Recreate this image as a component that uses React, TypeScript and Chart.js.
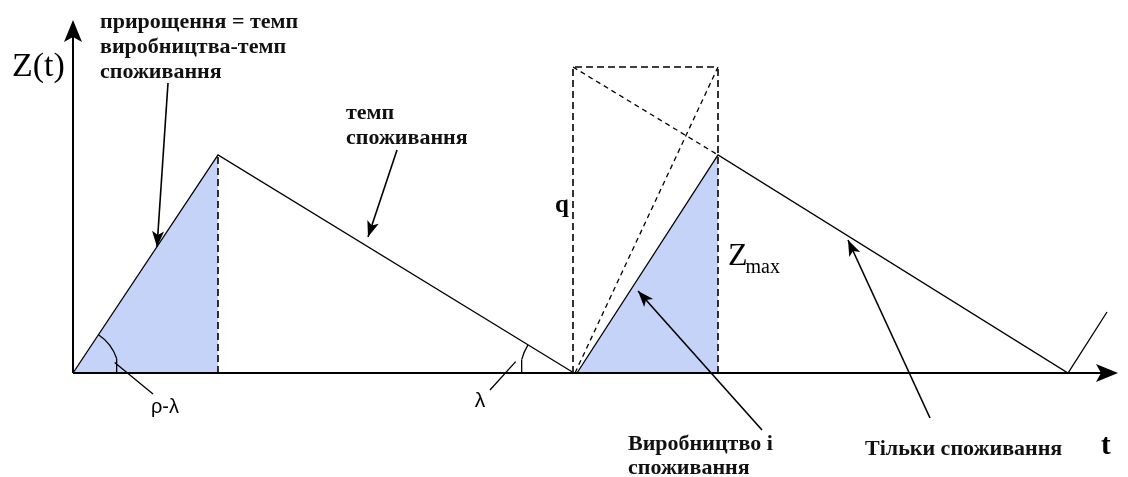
import React, { useEffect, useRef } from "react";
import { Chart, registerables } from "chart.js";

Chart.register(...registerables);

// ---- Data (time t, stock level Z) ----
const cycle1T = [0, 14.5, 50.1];
const cycle1Z = [0, 21.8, 0];
const cycle2T = [50.4, 64.5, 99.5, 103.4];
const cycle2Z = [0, 21.8, 0, 6.1];
const prodEndT = [14.5, 64.5];
const zMax = 21.8;
const qValue = 30.6;
const orderStartT = 50.0;
const prodLineT = [50.2, 64.5];
const prodLineZ = [0, 30.6];
const consExtT = [50.0, 64.5];
const consExtZ = [30.6, 21.8];
const axisEndT = 104.5;
const axisEndZ = 35.3;

// annotation arrows: [t, Z] of tail and of tip
const arrowsFrom = [
  [9.5, 29.0],
  [32.4, 22.3],
  [68.9, -5.7],
  [85.7, -4.5],
];
const arrowsTo = [
  [8.4, 12.6],
  [29.5, 13.6],
  [56.5, 8.2],
  [77.5, 13.3],
];

// text
const growthLabel = ["прирощення = темп", "виробництва-темп", "споживання"];
const consRateLabel = ["темп", "споживання"];
const prodConsLabel = ["Виробництво і", "споживання"];
const onlyConsLabel = "Тільки споживання";
const yAxisLabel = "Z(t)";
const xAxisLabel = "t";
const qLabel = "q";
const zMaxLabel = ["Z", "max"];
const angle1Label = "ρ-λ";
const angle2Label = "λ";

const FILL = "rgb(197,211,249)";
const DASH = [7, 4];

function pts(t: number[], z: number[]) {
  return t.map((v, i) => ({ x: v, y: z[i] }));
}

function arrowHead(
  ctx: CanvasRenderingContext2D,
  fx: number,
  fy: number,
  tx: number,
  ty: number,
  len: number,
  half: number,
  notch: number
) {
  const a = Math.atan2(ty - fy, tx - fx);
  const c = Math.cos(a);
  const s = Math.sin(a);
  const bx = tx - c * len;
  const by = ty - s * len;
  ctx.beginPath();
  ctx.moveTo(tx, ty);
  ctx.lineTo(bx - s * half, by + c * half);
  ctx.lineTo(tx - c * (len - notch), ty - s * (len - notch));
  ctx.lineTo(bx + s * half, by - c * half);
  ctx.closePath();
  ctx.fill();
}

const overlayPlugin = {
  id: "overlay",
  afterDatasetsDraw(chart: any) {
    const ctx: CanvasRenderingContext2D = chart.ctx;
    const xs = chart.scales.x;
    const ys = chart.scales.y;
    const px = (v: number) => xs.getPixelForValue(v);
    const py = (v: number) => ys.getPixelForValue(v);
    ctx.save();
    ctx.fillStyle = "#000";
    ctx.strokeStyle = "#000";

    // axis arrowheads
    arrowHead(ctx, px(0), py(0), px(0), py(axisEndZ), 22, 9, 5);
    arrowHead(ctx, px(0), py(0), px(axisEndT), py(0), 22, 9, 5);

    // annotation arrowheads
    arrowsFrom.forEach((f, i) => {
      const t = arrowsTo[i];
      arrowHead(ctx, px(f[0]), py(f[1]), px(t[0]), py(t[1]), 16, 6, 4);
    });

    // angle arcs
    ctx.lineWidth = 1.3;
    const o1x = px(cycle1T[0]);
    const o1y = py(0);
    const riseAng = Math.atan2(py(cycle1Z[1]) - o1y, px(cycle1T[1]) - o1x);
    ctx.beginPath();
    ctx.arc(o1x, o1y, 46, riseAng, -0.32);
    ctx.stroke();
    const e1x = o1x + 46 * Math.cos(-0.32);
    const e1y = o1y + 46 * Math.sin(-0.32);
    ctx.beginPath();
    ctx.moveTo(e1x, e1y);
    ctx.lineTo(e1x, o1y);
    ctx.moveTo(e1x - 2, e1y + 4);
    ctx.lineTo(px(8.0), py(-2.1));
    ctx.stroke();

    const o2x = px(cycle1T[2]);
    const o2y = py(0);
    const fallAng = Math.atan2(py(cycle1Z[1]) - o2y, px(cycle1T[1]) - o2x);
    ctx.beginPath();
    ctx.arc(o2x, o2y, 54, fallAng, Math.PI + 0.25, true);
    ctx.stroke();
    const e2x = o2x + 54 * Math.cos(Math.PI + 0.25);
    const e2y = o2y + 54 * Math.sin(Math.PI + 0.25);
    ctx.beginPath();
    ctx.moveTo(e2x, e2y);
    ctx.lineTo(e2x, o2y);
    ctx.moveTo(e2x - 6, e2y + 2);
    ctx.lineTo(px(41.7), py(-1.7));
    ctx.stroke();

    // texts
    ctx.textBaseline = "middle";
    ctx.textAlign = "left";
    ctx.fillStyle = "#111";
    ctx.font = "bold 22px 'Liberation Serif', serif";
    const g = [35.1, 32.6, 30.1];
    growthLabel.forEach((s, i) => ctx.fillText(s, px(2.7), py(g[i])));
    const c = [26.0, 23.5];
    consRateLabel.forEach((s, i) => ctx.fillText(s, px(27.3), py(c[i])));
    const p = [-7.1, -9.5];
    prodConsLabel.forEach((s, i) => ctx.fillText(s, px(55.5), py(p[i])));
    ctx.fillText(onlyConsLabel, px(79.2), py(-7.6));

    ctx.fillStyle = "#000";
    ctx.font = "bold 29px 'Liberation Serif', serif";
    ctx.fillText(xAxisLabel, px(102.8), py(-7.4));
    ctx.font = "bold 25px 'Liberation Serif', serif";
    ctx.fillText(qLabel, px(48.2), py(16.7));

    ctx.textBaseline = "alphabetic";
    ctx.font = "34px 'Liberation Serif', serif";
    ctx.fillText(yAxisLabel, px(-6.1), py(29.7));
    ctx.font = "32px 'Liberation Serif', serif";
    ctx.fillText(zMaxLabel[0], px(65.5), py(10.8));
    const zw = ctx.measureText(zMaxLabel[0]).width;
    ctx.font = "20px 'Liberation Serif', serif";
    ctx.fillText(zMaxLabel[1], px(65.5) + zw - 2, py(10.0));

    ctx.textBaseline = "middle";
    ctx.textAlign = "center";
    ctx.font = "20px 'Liberation Sans', sans-serif";
    ctx.fillText(angle1Label, px(9.2), py(-3.4));
    ctx.font = "21px 'Liberation Sans', sans-serif";
    ctx.fillText(angle2Label, px(40.7), py(-2.8));
    ctx.restore();
  },
};

export default function App() {
  const ref = useRef<HTMLCanvasElement | null>(null);
  useEffect(() => {
    if (!ref.current) return;
    const line = (data: any[], extra: any = {}) => ({
      type: "line",
      data,
      showLine: true,
      borderColor: "#000",
      borderWidth: 1.3,
      pointRadius: 0,
      fill: false,
      tension: 0,
      ...extra,
    });
    const datasets: any[] = [
      // shaded production periods
      line(pts(cycle1T.slice(0, 2), cycle1Z.slice(0, 2)), {
        fill: "origin",
        backgroundColor: FILL,
        borderWidth: 0,
      }),
      line(pts(cycle2T.slice(0, 2), cycle2Z.slice(0, 2)), {
        fill: "origin",
        backgroundColor: FILL,
        borderWidth: 0,
      }),
      // dashed verticals at end of production
      line(pts([prodEndT[0], prodEndT[0]], [0, zMax]), { borderDash: DASH, borderWidth: 1.6 }),
      line(pts([prodEndT[1], prodEndT[1]], [0, qValue]), { borderDash: DASH, borderWidth: 1.6 }),
      // order rectangle left side & top
      line(pts([orderStartT, orderStartT, prodEndT[1]], [0, qValue, qValue]), {
        borderDash: DASH,
        borderWidth: 1.6,
      }),
      line(pts(prodLineT, prodLineZ), { borderDash: [5, 4], borderWidth: 1.3 }),
      line(pts(consExtT, consExtZ), { borderDash: [5, 4], borderWidth: 1.3 }),
      // stock cycles
      line(pts(cycle1T, cycle1Z)),
      line(pts(cycle2T, cycle2Z)),
      // axes
      line(pts([0, 0], [0, axisEndZ - 1]), { borderWidth: 2 }),
      line(pts([0, axisEndT - 1], [0, 0]), { borderWidth: 2 }),
    ];
    arrowsFrom.forEach((f, i) => {
      const t = arrowsTo[i];
      datasets.push(line(pts([f[0], t[0]], [f[1], t[1]]), { borderWidth: 1.6 }));
    });
    const chart = new Chart(ref.current, {
      type: "scatter",
      data: { datasets },
      options: {
        animation: false,
        responsive: false,
        layout: { padding: 0 },
        plugins: {
          legend: { display: false },
          tooltip: { enabled: false },
          filler: { drawTime: "beforeDatasetsDraw" },
        },
        scales: {
          x: { type: "linear", display: false, min: -7.3, max: 105.5 },
          y: { type: "linear", display: false, min: -10.4, max: 37.3 },
        },
      },
      plugins: [overlayPlugin],
    } as any);
    return () => chart.destroy();
  }, []);
  return (
    <div style={{ position: "fixed", left: 0, top: 0, width: 1128, height: 477, background: "#fff" }}>
      <canvas ref={ref} width={1128} height={477} style={{ display: "block" }} />
    </div>
  );
}
